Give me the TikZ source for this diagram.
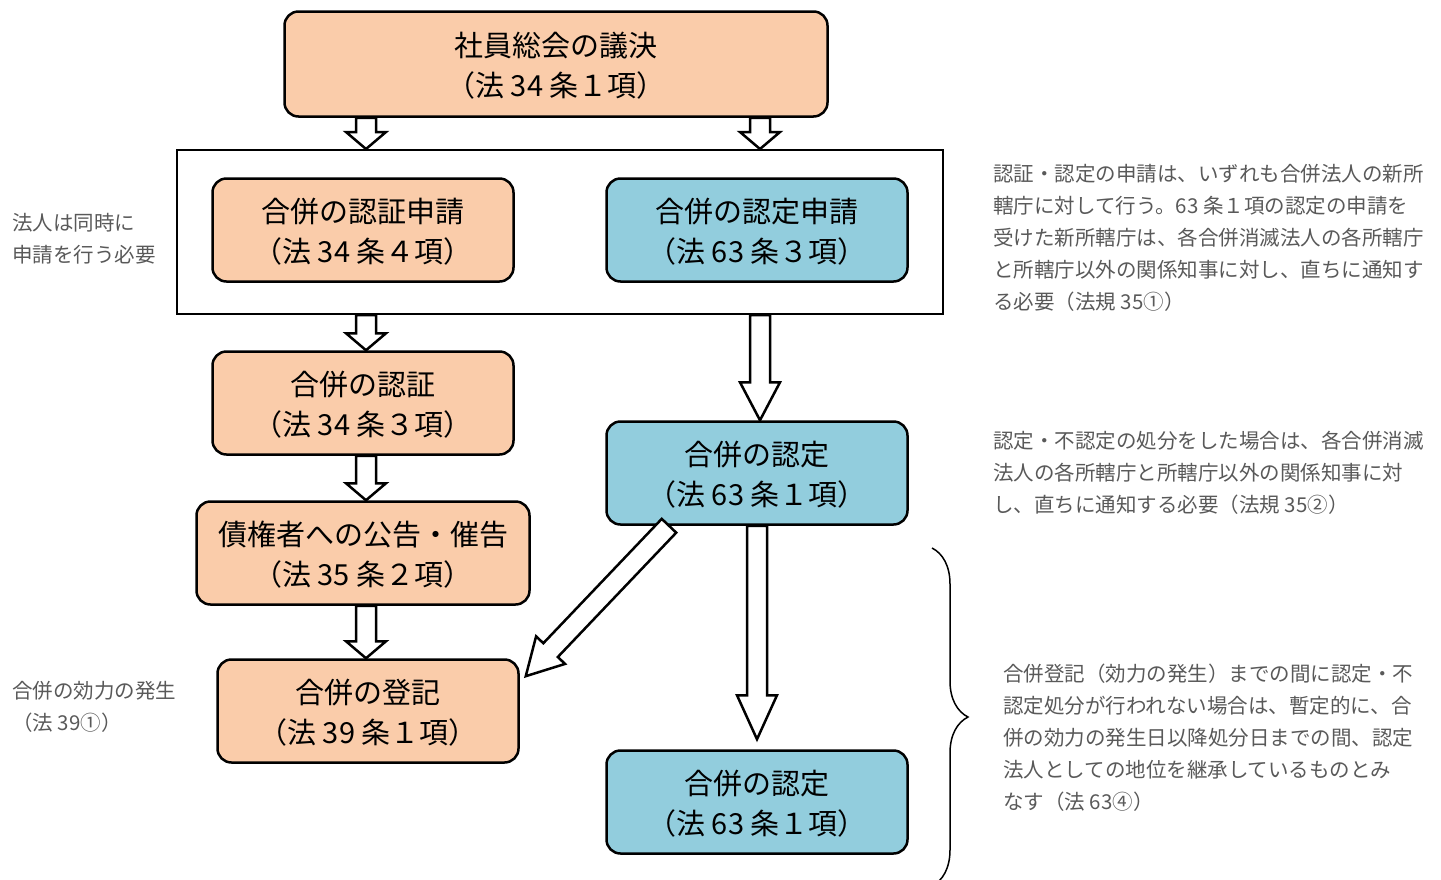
\documentclass[tikz,border=0pt]{standalone}
\usepackage{fontspec}
\newfontfamily\jp{Noto Sans CJK JP}
\usetikzlibrary{positioning,calc,decorations.pathreplacing}
\definecolor{boxorange}{RGB}{250,204,170}
\definecolor{boxblue}{RGB}{146,205,221}
% hollow block arrow between two points: [head length]{tail}{tip}
\newcommand\bigarrow[3][17]{%
	\coordinate (ba-s) at (#2);
	\coordinate (ba-t) at (#3);
	\coordinate (ba-m) at ($(ba-t)!#1pt!(ba-s)$);
	\draw[hollow] ($(ba-s)!10pt!90:(ba-t)$) -- ($(ba-m)!10pt!-90:(ba-s)$) -- ($(ba-m)!20pt!-90:(ba-s)$) -- (ba-t)
		-- ($(ba-m)!20pt!90:(ba-s)$) -- ($(ba-m)!10pt!90:(ba-s)$) -- ($(ba-s)!10pt!-90:(ba-t)$) -- cycle;}
\begin{document}
\begin{tikzpicture}[x=1pt,y=-1pt,
				box/.style={draw,rounded corners=14pt,line width=2.5pt,minimum width=301pt,minimum height=103pt,
					align=center,text depth=-4pt,font=\jp\fontsize{29}{40}\selectfont},
				orange/.style={box,fill=boxorange},
				blue/.style={box,fill=boxblue},
				note/.style={anchor=north west,align=left,inner sep=0pt,text=black!65,
					font=\jp\fontsize{20.5}{32}\selectfont},
				hollow/.style={draw,fill=white,line width=2.5pt,line join=miter}]
				\useasboundingbox (0,0) rectangle (1441,879);
				\node (FRAME)   [draw,line width=2pt,minimum width=766pt,minimum height=164pt] at (560,232) {};
				\node (TOP)     [orange,minimum width=543pt,minimum height=105pt] at (556,64) {社員総会の議決\\（法 34 条１項）};
				\node (SHIN1)   [orange] at (363,230) {合併の認証申請\\（法 34 条４項）};
				\node (SHIN2)   [blue]   at (757,230) {合併の認定申請\\（法 63 条３項）};
				\node (NINSHO)  [orange] at (363,403) {合併の認証\\（法 34 条３項）};
				\node (NINTEI)  [blue]   at (757,473) {合併の認定\\（法 63 条１項）};
				\node (SAIKEN)  [orange,minimum width=333pt] at (363,553) {債権者への公告・催告\\（法 35 条２項）};
				\node (TOUKI)   [orange] at (368,711) {合併の登記\\（法 39 条１項）};
				\node (NINTEI2) [blue]   at (757,802) {合併の認定\\（法 63 条１項）};
				
				\node (NOTE1) [note] at (993,164) {認証・認定の申請は、いずれも合併法人の新所\\轄庁に対して行う。63 条１項の認定の申請を\\受けた新所轄庁は、各合併消滅法人の各所轄庁\\と所轄庁以外の関係知事に対し、直ちに通知す\\る必要（法規 35①）};
				\node (NOTE2) [note] at (993,431) {認定・不認定の処分をした場合は、各合併消滅\\法人の各所轄庁と所轄庁以外の関係知事に対\\し、直ちに通知する必要（法規 35②）};
				\node (NOTE3) [note] at (1003,664) {合併登記（効力の発生）までの間に認定・不\\認定処分が行われない場合は、暫定的に、合\\併の効力の発生日以降処分日までの間、認定\\法人としての地位を継承しているものとみ\\なす（法 63④）};
				\node (NOTE4) [note] at (12,213) {法人は同時に\\申請を行う必要};
				\node (NOTE5) [note] at (12,681) {合併の効力の発生\\（法 39①）};
				
				\bigarrow{$(TOP.south -| SHIN1)+(3,0)$}{$(FRAME.north -| SHIN1)+(3,0)$}
				\bigarrow{$(TOP.south -| SHIN2)+(3,0)$}{$(FRAME.north -| SHIN2)+(3,0)$}
				\bigarrow{$(FRAME.south -| NINSHO)+(3,0)$}{$(NINSHO.north)+(3,0)$}
				\bigarrow[38]{$(FRAME.south -| NINTEI)+(3,0)$}{$(NINTEI.north)+(3,0)$}
				\bigarrow{$(NINSHO.south)+(3,0)$}{$(SAIKEN.north)+(3,0)$}
				\bigarrow{$(SAIKEN.south -| TOUKI)+(-2,0)$}{$(TOUKI.north)+(-2,0)$}
				\bigarrow[36]{$(NINTEI.south west)!0.21!(NINTEI.south east)$}{$(TOUKI.north east)!0.17!(TOUKI.south east)+(6,0)$}
				\bigarrow[44]{NINTEI.south}{$(NINTEI2.north)+(0,-10)$}
				\draw[decorate,decoration={brace,amplitude=36pt},line width=1.5pt] (932,548) -- (932,886);
			\end{tikzpicture}
\end{document}
